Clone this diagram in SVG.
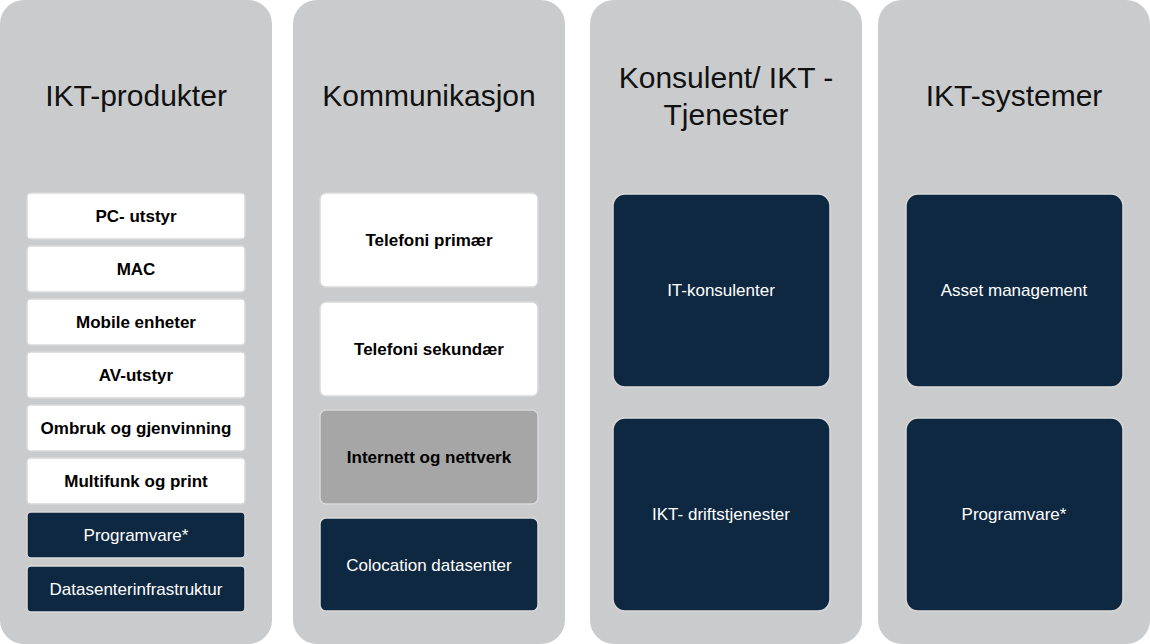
<svg xmlns="http://www.w3.org/2000/svg" width="1150" height="644" viewBox="0 0 1150 644">
<style>
.col{fill:#cacbcd}
.t{font-family:"Liberation Sans",Arial,sans-serif;font-size:30px;fill:#111;text-anchor:middle}
.w{fill:#fff;stroke:#d9d9d9;stroke-width:1.5}
.g{fill:#a6a6a6;stroke:#d9d9d9;stroke-width:1.5}
.n{fill:#0f2841;stroke:#d9d9d9;stroke-width:1.5}
.b{font-family:"Liberation Sans",Arial,sans-serif;font-size:17px;font-weight:bold;fill:#000;text-anchor:middle;dominant-baseline:central}
.l{font-family:"Liberation Sans",Arial,sans-serif;font-size:17px;fill:#fff;text-anchor:middle;dominant-baseline:central}
</style>
<g id="col1"><rect class="col" x="0" y="0" width="272" height="644" rx="24"/><text class="t" x="136" y="106">IKT-produkter</text></g>
<g id="col2"><rect class="col" x="293" y="0" width="272" height="644" rx="24"/><text class="t" x="429" y="106">Kommunikasjon</text></g>
<g id="col3"><rect class="col" x="590" y="0" width="272" height="644" rx="24"/><text class="t" x="726" y="88">Konsulent/ IKT -</text><text class="t" x="726" y="125">Tjenester</text></g>
<g id="col4"><rect class="col" x="878" y="0" width="272" height="644" rx="24"/><text class="t" x="1014" y="106">IKT-systemer</text></g>
<g id="n1"><rect class="w" x="27" y="193" width="218" height="46" rx="4"/><text class="b" x="136" y="216">PC- utstyr</text></g>
<g id="n2"><rect class="w" x="27" y="246" width="218" height="46" rx="4"/><text class="b" x="136" y="269">MAC</text></g>
<g id="n3"><rect class="w" x="27" y="299" width="218" height="46" rx="4"/><text class="b" x="136" y="322">Mobile enheter</text></g>
<g id="n4"><rect class="w" x="27" y="352" width="218" height="46" rx="4"/><text class="b" x="136" y="375">AV-utstyr</text></g>
<g id="n5"><rect class="w" x="27" y="405" width="218" height="46" rx="4"/><text class="b" x="136" y="428">Ombruk og gjenvinning</text></g>
<g id="n6"><rect class="w" x="27" y="458" width="218" height="46" rx="4"/><text class="b" x="136" y="481">Multifunk og print</text></g>
<g id="n7"><rect class="n" x="27" y="512" width="218" height="46" rx="4"/><text class="l" x="136" y="535">Programvare*</text></g>
<g id="n8"><rect class="n" x="27" y="566" width="218" height="46" rx="4"/><text class="l" x="136" y="589">Datasenterinfrastruktur</text></g>
<g id="n9"><rect class="w" x="320" y="193" width="218" height="94" rx="6"/><text class="b" x="429" y="240">Telefoni primær</text></g>
<g id="n10"><rect class="w" x="320" y="302" width="218" height="94" rx="6"/><text class="b" x="429" y="349">Telefoni sekundær</text></g>
<g id="n11"><rect class="g" x="320" y="410" width="218" height="94" rx="6"/><text class="b" x="429" y="457">Internett og nettverk</text></g>
<g id="n12"><rect class="n" x="320" y="518" width="218" height="93" rx="6"/><text class="l" x="429" y="565">Colocation datasenter</text></g>
<g id="n13"><rect class="n" x="613" y="194" width="217" height="193" rx="12"/><text class="l" x="721" y="290">IT-konsulenter</text></g>
<g id="n14"><rect class="n" x="613" y="418" width="217" height="193" rx="12"/><text class="l" x="721" y="514">IKT- driftstjenester</text></g>
<g id="n15"><rect class="n" x="906" y="194" width="217" height="193" rx="12"/><text class="l" x="1014" y="290">Asset management</text></g>
<g id="n16"><rect class="n" x="906" y="418" width="217" height="193" rx="12"/><text class="l" x="1014" y="514">Programvare*</text></g>
<g id="connectors"></g>
</svg>
